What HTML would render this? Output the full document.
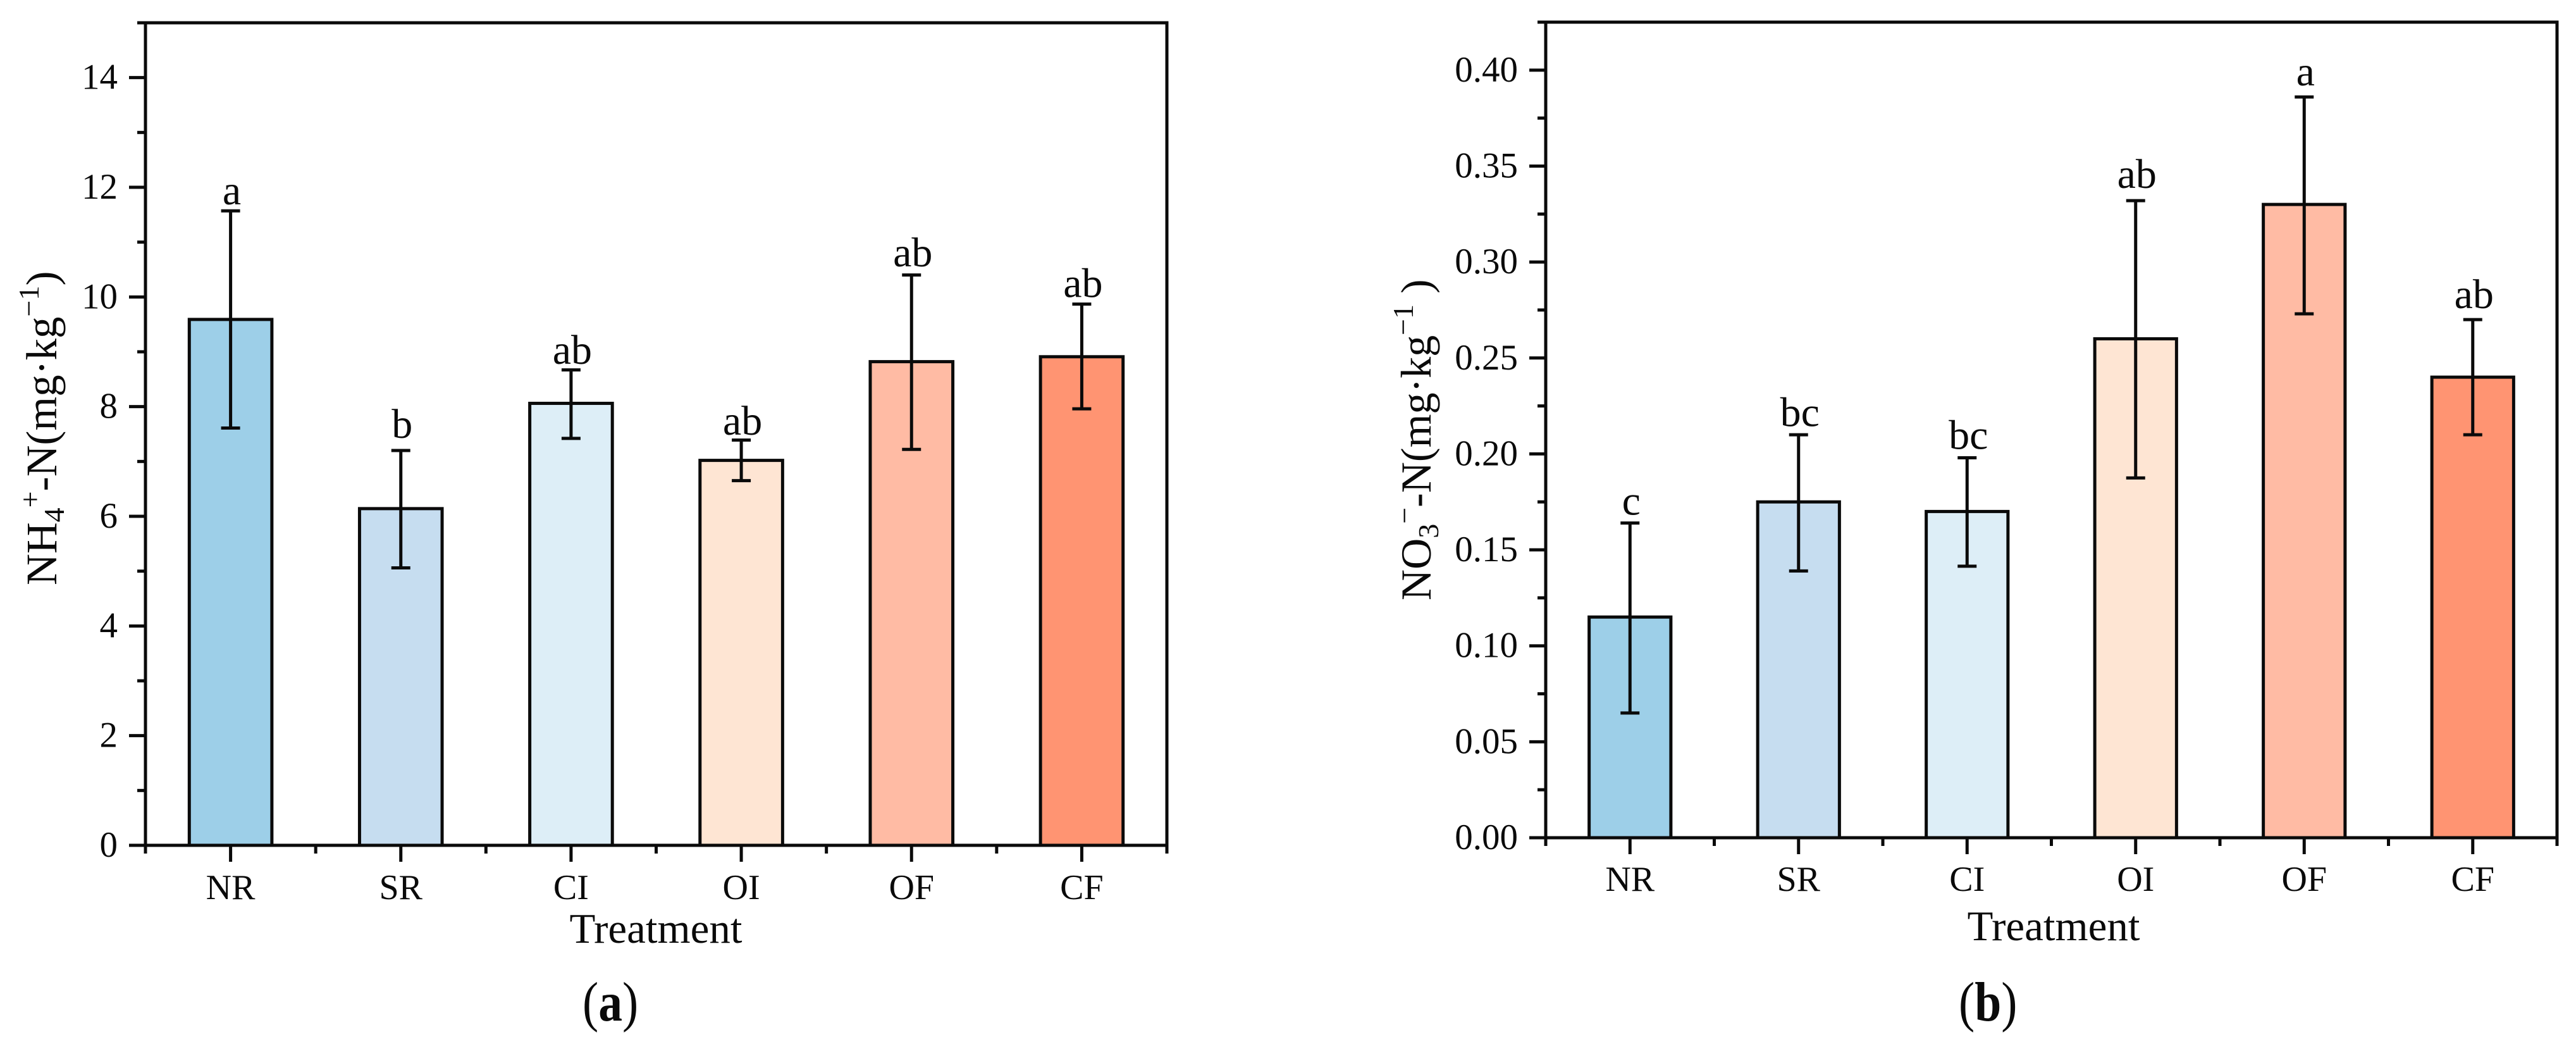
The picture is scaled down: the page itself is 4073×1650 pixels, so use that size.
<!DOCTYPE html>
<html lang="en">
<head>
<meta charset="utf-8">
<title>Soil ammonium and nitrate nitrogen by treatment</title>
<style>
html,body{margin:0;padding:0;background:#fff;}
svg{display:block;}
text{font-family:"Liberation Serif",serif;fill:#0a0a0a;}
</style>
</head>
<body>
<svg id="figure" xmlns="http://www.w3.org/2000/svg" width="4073" height="1650" viewBox="0 0 4073 1650">
  <rect x="0" y="0" width="4073" height="1650" fill="#ffffff"/>
  <g id="panel-a"></g>
  <g id="panel-b"></g>

  <text transform="translate(89 925) rotate(-90)" font-size="69">NH<tspan font-size="46" dy="12">4</tspan><tspan font-size="46" dy="-38">+</tspan><tspan dy="26">-N(mg·kg</tspan><tspan font-size="46" dy="-28">−1</tspan><tspan dy="28">)</tspan></text>
  <text x="1037" y="1490" font-size="67" text-anchor="middle">Treatment</text>
  <text transform="translate(921 1613) scale(0.97 1.13)" font-size="78">(<tspan font-weight="bold">a</tspan>)</text>

  <text transform="translate(2262 949) rotate(-90)" font-size="68">NO<tspan font-size="46" dy="12">3</tspan><tspan font-size="46" dy="-38">−</tspan><tspan dy="26">-N(mg·kg</tspan><tspan font-size="46" dy="-28">−1</tspan><tspan dy="28"> )</tspan></text>
  <text x="3247" y="1486" font-size="67" text-anchor="middle">Treatment</text>
  <text transform="translate(3097 1613) scale(0.97 1.13)" font-size="78">(<tspan font-weight="bold">b</tspan>)</text>
</svg>
<script>
const categories = ['NR', 'SR', 'CI', 'OI', 'OF', 'CF'];
const barColors = ['#9dcfe8', '#c6ddf0', '#ddeef7', '#fee5d3', '#ffbba4', '#ff9472'];

const ammoniumValues = [9.59, 6.14, 8.06, 7.02, 8.82, 8.91];
const ammoniumUpper = [11.57, 7.2, 8.67, 7.39, 10.4, 9.87];
const ammoniumLower = [7.61, 5.06, 7.42, 6.65, 7.22, 7.96];
const ammoniumLetters = ['a', 'b', 'ab', 'ab', 'ab', 'ab'];
const ammoniumLetterLevels = [11.69, 7.43, 8.78, 7.49, 10.56, 10.0];
const ammoniumTicks = [0, 2, 4, 6, 8, 10, 12, 14];
const ammoniumTickLabels = ['0', '2', '4', '6', '8', '10', '12', '14'];
const ammoniumMinorTicks = [1, 3, 5, 7, 9, 11, 13, 15];

const nitrateValues = [0.115, 0.175, 0.17, 0.26, 0.33, 0.24];
const nitrateUpper = [0.164, 0.21, 0.198, 0.332, 0.386, 0.27];
const nitrateLower = [0.065, 0.139, 0.1415, 0.1875, 0.273, 0.21];
const nitrateLetters = ['c', 'bc', 'bc', 'ab', 'a', 'ab'];
const nitrateLetterLevels = [0.1684, 0.2145, 0.2026, 0.3386, 0.392, 0.276];
const nitrateTicks = [0, 0.05, 0.1, 0.15, 0.2, 0.25, 0.3, 0.35, 0.4];
const nitrateTickLabels = ['0.00', '0.05', '0.10', '0.15', '0.20', '0.25', '0.30', '0.35', '0.40'];
const nitrateMinorTicks = [0.025, 0.075, 0.125, 0.175, 0.225, 0.275, 0.325, 0.375, 0.425];

const SVG_NS = 'http://www.w3.org/2000/svg';

function make(parent, tag, name, attrs, content) {
  const el = document.createElementNS(SVG_NS, tag);
  
  
  for (const key in attrs) {
    el.setAttribute(key, attrs[key]);
  }
  if (content !== undefined) {
    el.textContent = content;
  }
  parent.appendChild(el);
  return el;
}

function line(parent, name, x1, y1, x2, y2, width) {
  return make(parent, 'line', name, {
    x1: x1, y1: y1, x2: x2, y2: y2,
    stroke: '#0a0a0a',
    'stroke-width': width
  });
}

function drawPanel(cfg) {
  const g = document.getElementById(cfg.id);
  const yScale = v => cfg.bottom - (v / cfg.yMax) * (cfg.bottom - cfg.top);
  const slot = (cfg.right - cfg.left) / categories.length;
  const xScale = i => cfg.left + slot * (i + 0.5);
  const barW = slot * 0.5 - 4;
  const capHalf = 15;
  const stroke = 5;

  categories.forEach((cat, i) => {
    const cx = xScale(i);
    make(g, 'rect', 'bar-' + cat.toLowerCase(), {
      x: cx - barW / 2,
      y: yScale(cfg.values[i]),
      width: barW,
      height: cfg.bottom - yScale(cfg.values[i]),
      fill: barColors[i],
      stroke: '#0a0a0a',
      'stroke-width': stroke
    });
    line(g, 'error-bar-' + cat.toLowerCase(), cx, yScale(cfg.upper[i]), cx, yScale(cfg.lower[i]), stroke);
    line(g, 'error-cap-upper-' + cat.toLowerCase(), cx - capHalf, yScale(cfg.upper[i]), cx + capHalf, yScale(cfg.upper[i]), stroke);
    line(g, 'error-cap-lower-' + cat.toLowerCase(), cx - capHalf, yScale(cfg.lower[i]), cx + capHalf, yScale(cfg.lower[i]), stroke);
    make(g, 'text', 'significance-letter-' + cat.toLowerCase(), {
      x: cx + 2,
      y: yScale(cfg.letterLevels[i]),
      'font-size': 66,
      'text-anchor': 'middle'
    }, cfg.letters[i]);
    make(g, 'text', 'x-tick-label-' + cat.toLowerCase(), {
      x: cx,
      y: cfg.bottom + cfg.xLabelGap,
      'font-size': 56,
      'text-anchor': 'middle'
    }, cat);
    line(g, 'x-tick-' + cat.toLowerCase(), cx, cfg.bottom, cx, cfg.bottom + 26, stroke);
  });

  for (let i = 0; i <= categories.length; i++) {
    const x = cfg.left + slot * i;
    line(g, 'x-minor-tick', x, cfg.bottom, x, cfg.bottom + 13, stroke);
  }

  cfg.ticks.forEach((t, i) => {
    const y = yScale(t);
    line(g, 'y-tick', cfg.left - 26, y, cfg.left, y, stroke);
    make(g, 'text', 'y-tick-label', {
      x: cfg.left - 44,
      y: y + 18,
      'font-size': 57,
      'text-anchor': 'end'
    }, cfg.tickLabels[i]);
  });

  cfg.minorTicks.forEach(t => {
    const y = yScale(t);
    line(g, 'y-minor-tick', cfg.left - 13, y, cfg.left, y, stroke);
  });

  make(g, 'rect', 'plot-frame', {
    x: cfg.left,
    y: cfg.top,
    width: cfg.right - cfg.left,
    height: cfg.bottom - cfg.top,
    fill: 'none',
    stroke: '#0a0a0a',
    'stroke-width': stroke
  });
}

drawPanel({
  id: 'panel-a',
  left: 230, right: 1845, top: 36, bottom: 1336,
  yMax: 15,
  xLabelGap: 85,
  values: ammoniumValues,
  upper: ammoniumUpper,
  lower: ammoniumLower,
  letters: ammoniumLetters,
  letterLevels: ammoniumLetterLevels,
  ticks: ammoniumTicks,
  tickLabels: ammoniumTickLabels,
  minorTicks: ammoniumMinorTicks
});

drawPanel({
  id: 'panel-b',
  left: 2444, right: 4043, top: 35, bottom: 1324,
  yMax: 0.425,
  xLabelGap: 84,
  values: nitrateValues,
  upper: nitrateUpper,
  lower: nitrateLower,
  letters: nitrateLetters,
  letterLevels: nitrateLetterLevels,
  ticks: nitrateTicks,
  tickLabels: nitrateTickLabels,
  minorTicks: nitrateMinorTicks
});
</script>
</body>
</html>
